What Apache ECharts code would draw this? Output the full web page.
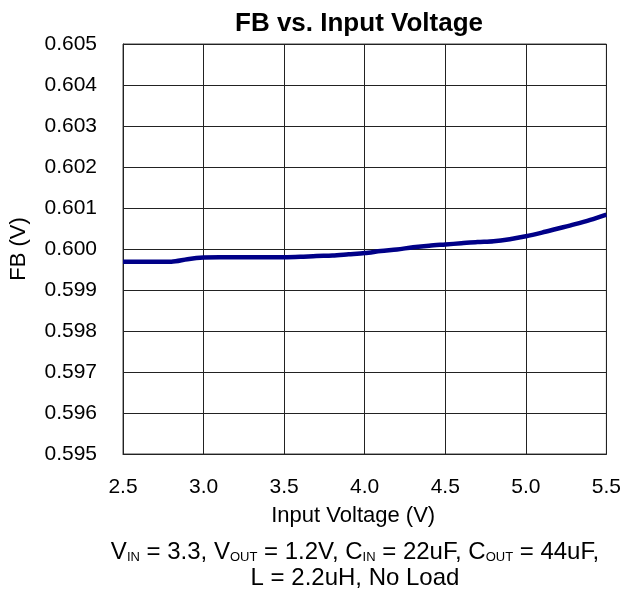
<!DOCTYPE html>
<html>
<head>
<meta charset="utf-8">
<script src="https://cdn.jsdelivr.net/npm/echarts@6/dist/echarts.min.js"></script>
<style>
  html, body { margin: 0; padding: 0; background: #fff; }
  #chart { width: 624px; height: 590px; }
</style>
</head>
<body>
<div id="chart"></div>
<script>
// FB vs input voltage
var vin = [2.5, 2.6, 2.7, 2.8, 2.9, 3.0, 3.1, 3.2, 3.3, 3.4, 3.5, 3.6, 3.7, 3.8, 3.9, 4.0,
  4.1, 4.2, 4.3, 4.4, 4.5, 4.6, 4.7, 4.8, 4.9, 5.0, 5.1, 5.2, 5.3, 5.4, 5.5];
var fb = [0.59969, 0.59969, 0.59969, 0.59969, 0.59975, 0.59979, 0.59980, 0.59980, 0.59980,
  0.59980, 0.59980, 0.59981, 0.59983, 0.59984, 0.59987, 0.59990, 0.59995, 0.59999, 0.60004,
  0.60008, 0.60011, 0.60014, 0.60017, 0.60019, 0.60024, 0.60031, 0.60040, 0.60050, 0.60060,
  0.60071, 0.60084];

var chart = echarts.init(document.getElementById('chart'));
var font = 'Liberation Sans, Arial, sans-serif';

var option = {
  animation: false,
  backgroundColor: '#fff',
  title: [{
    text: 'FB vs. Input Voltage',
    left: 354,
    top: 6,
    textAlign: 'center',
    textStyle: { fontFamily: font, fontSize: 26, fontWeight: 'bold', color: '#000' }
  }, {
    text: '{n|V}{s|IN}{n| = 3.3, V}{s|OUT}{n| = 1.2V, C}{s|IN}{n| = 22uF, C}{s|OUT}{n| = 44uF,}\n{n|L = 2.2uH, No Load}',
    left: 350,
    top: 533,
    textAlign: 'center',
    textStyle: {
      fontFamily: font,
      fontWeight: 'normal',
      rich: {
        n: { fontFamily: font, fontSize: 24, fontWeight: 'normal', color: '#000', lineHeight: 26, verticalAlign: 'bottom' },
        s: { fontFamily: font, fontSize: 13, fontWeight: 'normal', color: '#000', lineHeight: 11, verticalAlign: 'bottom' }
      }
    }
  }],
  grid: { left: 120, right: 15, top: 44, bottom: 136, show: true, borderColor: '#444', borderWidth: 1 },
  xAxis: {
    type: 'value',
    min: 2.5, max: 5.5, interval: 0.5,
    name: 'Input Voltage (V)',
    nameLocation: 'middle',
    nameGap: 51,
    nameTextStyle: { fontFamily: font, fontSize: 22, color: '#000', padding: [0, 23, 0, 0] },
    axisLine: { show: true, lineStyle: { color: '#222' } },
    axisTick: { show: false },
    axisLabel: {
      fontFamily: font, fontSize: 21, color: '#000', margin: 23,
      formatter: function(v) { return v.toFixed(1); }
    },
    splitLine: { show: true, lineStyle: { color: '#222', width: 1 } }
  },
  yAxis: {
    type: 'value',
    min: 0.595, max: 0.605, interval: 0.001,
    name: 'FB (V)',
    nameLocation: 'middle',
    nameGap: 93,
    nameTextStyle: { fontFamily: font, fontSize: 22, color: '#000' },
    axisLine: { show: true, lineStyle: { color: '#222' } },
    axisTick: { show: false },
    axisLabel: {
      fontFamily: font, fontSize: 21, color: '#000', margin: 26,
      formatter: function(v) { return v.toFixed(3); }
    },
    splitLine: { show: true, lineStyle: { color: '#222', width: 1 } }
  },
  series: [{
    type: 'line',
    data: vin.map(function(x, i) { return [x, fb[i]]; }),
    showSymbol: false,
    smooth: 0.3,
    lineStyle: { color: '#000088', width: 4.5 },
    itemStyle: { color: '#000088' }
  }]
};

chart.setOption(option);
</script>
</body>
</html>
